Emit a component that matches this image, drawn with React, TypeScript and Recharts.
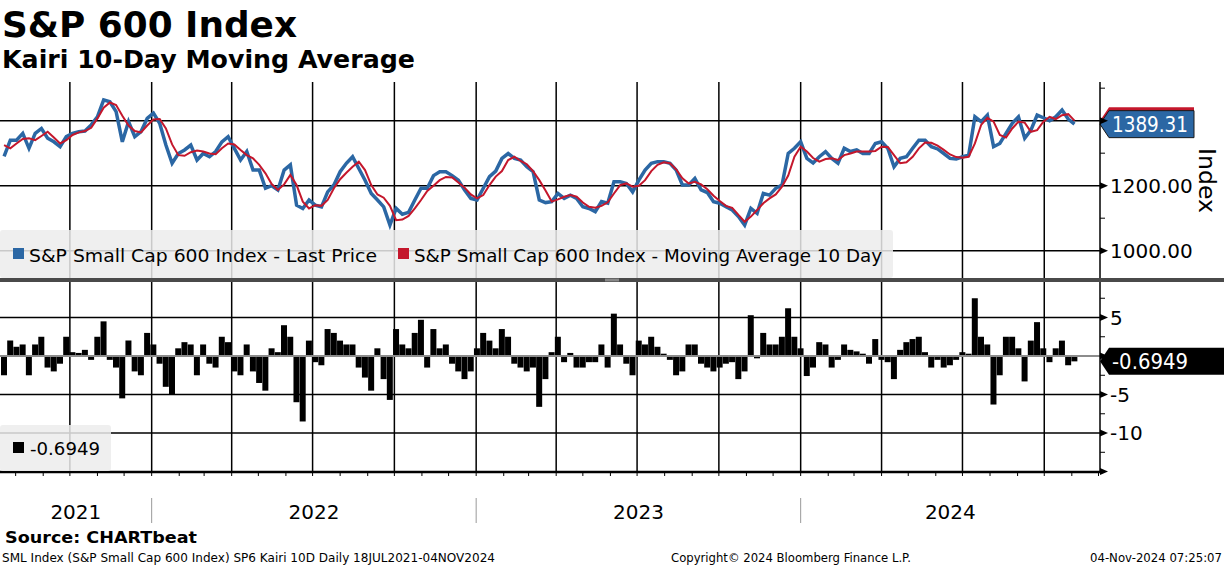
import { Bar, CartesianGrid, ComposedChart, Line, ReferenceLine, XAxis, YAxis } from "recharts"

// weekly closes, S&P 600 (SML Index), Mon 19 Jul 2021 .. Mon 4 Nov 2024
const price = [
  1290, 1340, 1340, 1361, 1315, 1361, 1376, 1346, 1335, 1320,
  1351, 1361, 1366, 1368, 1387, 1412, 1464, 1458, 1428, 1335,
  1397, 1351, 1366, 1407, 1423, 1392, 1325, 1269, 1299, 1310,
  1325, 1279, 1299, 1289, 1305, 1335, 1351, 1315, 1279, 1305,
  1248, 1248, 1192, 1200, 1187, 1248, 1264, 1140, 1130, 1156,
  1140, 1135, 1181, 1202, 1243, 1269, 1289, 1253, 1217, 1176,
  1156, 1135, 1079, 1130, 1112, 1118, 1156, 1192, 1192, 1231,
  1243, 1243, 1231, 1217, 1187, 1161, 1156, 1192, 1228, 1245,
  1284, 1299, 1284, 1279, 1258, 1243, 1156, 1148, 1151, 1176,
  1161, 1171, 1161, 1135, 1130, 1120, 1151, 1146, 1212, 1212,
  1207, 1181, 1217, 1248, 1269, 1274, 1274, 1269, 1248, 1202,
  1202, 1222, 1187, 1179, 1151, 1146, 1135, 1125, 1105, 1079,
  1130, 1115, 1176, 1171, 1192, 1202, 1299, 1315, 1335, 1284,
  1270, 1289, 1305, 1284, 1269, 1315, 1305, 1310, 1299, 1299,
  1330, 1335, 1315, 1258, 1284, 1289, 1315, 1340, 1340, 1320,
  1313, 1299, 1284, 1282, 1289, 1294, 1412, 1397, 1417, 1320,
  1330, 1361, 1392, 1412, 1346, 1371, 1417, 1409, 1400, 1412,
  1433, 1405, 1389.31,
]

const ma10 = [
  1325, 1315, 1330, 1344, 1346, 1340, 1353, 1366, 1348, 1330,
  1340, 1356, 1364, 1368, 1378, 1407, 1440, 1456, 1448, 1415,
  1385, 1368, 1364, 1385, 1404, 1405, 1376, 1327, 1294, 1292,
  1303, 1308, 1305, 1299, 1297, 1315, 1330, 1327, 1310, 1294,
  1284, 1264, 1238, 1205, 1187, 1204, 1233, 1202, 1151, 1130,
  1140, 1138, 1156, 1192, 1220, 1240, 1258, 1274, 1248, 1202,
  1173, 1163, 1138, 1094, 1096, 1107, 1130, 1156, 1184, 1200,
  1217, 1227, 1225, 1210, 1194, 1173, 1161, 1171, 1202, 1228,
  1245, 1279, 1289, 1276, 1266, 1245, 1217, 1185, 1151, 1158,
  1166, 1171, 1166, 1148, 1135, 1132, 1138, 1149, 1176, 1202,
  1207, 1197, 1200, 1217, 1245, 1264, 1272, 1269, 1250, 1223,
  1207, 1212, 1204, 1189, 1169, 1153, 1138, 1132, 1110, 1089,
  1105, 1125, 1146, 1161, 1173, 1197, 1231, 1289, 1320, 1305,
  1285, 1274, 1282, 1284, 1279, 1294, 1299, 1305, 1305, 1305,
  1307, 1320, 1319, 1294, 1269, 1272, 1289, 1315, 1333, 1332,
  1323, 1310, 1296, 1288, 1286, 1289, 1330, 1387, 1409, 1397,
  1356, 1348, 1376, 1397, 1394, 1366, 1371, 1397, 1412, 1405,
  1417, 1420, 1400,
]

const kairi = [
  -2.5, 2.0, 1.2, 1.5, -2.5, 1.5, 2.5, -1.5, -2.0, -1.0,
  2.5, 0.5, 0.4, 0.8, -0.5, 2.5, 4.5, -0.5, -1.5, -5.5,
  2.0, -2.0, -2.5, 3.0, 1.5, -1.0, -4.0, -5.0, 1.0, 1.8,
  1.5, -2.5, 1.5, -1.0, -1.5, 2.5, 1.8, -2.0, -2.5, 1.5,
  -2.0, -3.5, -4.5, 1.0, 0.5, 4.0, 2.5, -6.0, -8.5, 2.0,
  -0.8, -1.2, 3.5, 3.0, 2.0, 1.5, 1.5, -1.5, -2.8, -4.5,
  1.0, -3.0, -5.7, 3.5, 1.5, 1.0, 3.0, 4.7, -1.5, 3.5,
  1.0, 1.5, -1.0, -2.0, -3.0, -2.0, 1.0, 3.0, 2.0, 1.0,
  3.5, 2.5, -1.0, -1.5, -2.0, -1.5, -6.6, -3.0, 0.5, 2.5,
  -0.8, 0.4, -1.5, -1.5, -0.8, -0.8, 1.5, -1.5, 5.5, 1.5,
  -1.0, -2.5, 2.0, 1.5, 2.5, 1.2, 0.3, -0.5, -2.5, -2.0,
  1.5, 1.5, -1.0, -1.5, -2.0, -1.5, -1.0, -0.8, -3.0, -2.0,
  5.3, -0.3, 3.0, 1.5, 1.5, 2.5, 6.2, 2.5, 1.0, -2.6,
  -1.5, 1.8, 1.5, -1.5, -0.5, 1.5, 0.8, 0.6, 0.3, -1.0,
  2.2, -0.5, -0.8, -3.0, 0.8, 1.8, 2.2, 2.5, 0.5, -1.5,
  -0.5, -1.5, -1.2, -0.5, 0.5, 0.3, 7.5, 2.5, 1.5, -6.3,
  -2.5, 2.5, 2.5, 1.0, -3.3, 2.0, 4.4, 1.0, -0.8, 1.0,
  2.0, -1.2, -0.6949,
]

const quarterDates = [
  "2021-10-01", "2022-01-01", "2022-04-01", "2022-07-01", "2022-10-01",
  "2023-01-01", "2023-04-01", "2023-07-01", "2023-10-01",
  "2024-01-01", "2024-04-01", "2024-07-01", "2024-10-01",
]
const yearStartDates = ["2022-01-01", "2023-01-01", "2024-01-01"]
const years = ["2021", "2022", "2023", "2024"]

const priceTicks = [1000, 1100, 1200, 1300, 1400, 1500]
const priceMajors = [1000, 1200, 1400]
const kairiTicks = [-15, -12.5, -10, -7.5, -5, -2.5, 0, 2.5, 5, 7.5]
const kairiMajors = [-15, -10, -5, 0, 5]

const FONT = "'DejaVu Sans', Verdana, sans-serif"
const BLUE = "#2b67a4"
const RED = "#c4172c"

const START = Date.UTC(2021, 6, 19)
const dayOf = (s: string) => Math.round((Date.parse(s) - START) / 86400000)

const X_MIN = -4.6
const X_MAX = 1232.7

const rows = price.map((p, i) => ({ d: i * 7, price: p, ma: ma10[i], kairi: kairi[i] }))
const lastPrice = price[price.length - 1]
const lastMa = ma10[ma10.length - 1]
const lastKairi = kairi[kairi.length - 1]

const quarterDays = quarterDates.map(dayOf)
const yearStartDays = yearStartDates.map(dayOf)
const yearBounds = [X_MIN, ...yearStartDays, X_MAX]
const yearMids = years.map((y, i) => ({ label: y, d: (yearBounds[i] + yearBounds[i + 1]) / 2 }))

const monthDays: number[] = []
for (let y = 2021; y <= 2024; y++) {
  for (let m = 0; m < 12; m++) {
    const d = Math.round((Date.UTC(y, m, 1) - START) / 86400000)
    if (d > X_MIN && d < X_MAX) monthDays.push(d)
  }
}

function AxisTick(props: any) {
  const { x, y, payload, majors, digits, skip } = props
  const v = payload.value
  if (!majors.includes(v)) {
    return <line x1={x} x2={x + 5} y1={y} y2={y} stroke="#000" strokeWidth={1} />
  }
  // labels under the value tags (and the bottom edge) are left out, as on the terminal
  const hidden = skip.includes(v)
  return (
    <g>
      <path d={`M${x},${y - 3.5} L${x + 8},${y} L${x},${y + 3.5} Z`} fill="#000" />
      {!hidden && (
        <text x={x + 10} y={y} dy="0.36em" fontSize={20} fontFamily={FONT} fill="#000">
          {digits ? v.toFixed(digits) : String(v)}
        </text>
      )}
    </g>
  )
}

function DateTick(props: any) {
  const { x, y, payload } = props
  const v = payload.value
  const mid = yearMids.find((m) => Math.abs(m.d - v) < 1e-6)
  if (mid) {
    return (
      <text x={x} y={y + 47} textAnchor="middle" fontSize={20} fontFamily={FONT} fill="#000">
        {mid.label}
      </text>
    )
  }
  return (
    <g>
      <line x1={x} x2={x} y1={y} y2={y + 4} stroke="#000" strokeWidth={1} />
      {yearStartDays.includes(v) && (
        <line x1={x} x2={x} y1={y + 26} y2={y + 51} stroke="#9a9a9a" strokeWidth={1} />
      )}
    </g>
  )
}

function ValueTag(props: any) {
  const { viewBox, fill, text, w, outline } = props
  if (!viewBox) return null
  const x = viewBox.x + viewBox.width
  const y = viewBox.y
  const h = 27
  return (
    <g>
      <path
        d={`M${x},${y} L${x + 9},${y - h / 2} L${x + w},${y - h / 2} L${x + w},${y + h / 2} L${x + 9},${y + h / 2} Z`}
        fill={fill}
        stroke={outline || "none"}
        strokeWidth={1}
      />
      {text && (
        <text x={x + 12} y={y} dy="0.36em" fontSize={21} fontFamily={FONT} fill="#fff"
          textLength={76} lengthAdjust="spacingAndGlyphs">
          {text}
        </text>
      )}
    </g>
  )
}

export default function App() {
  return (
    <div style={{ position: "absolute", left: 0, top: 0, width: 1224, height: 566, background: "#fff", fontFamily: FONT }}>
      <div style={{ position: "absolute", left: 0, top: 80 }}>
        <ComposedChart width={1224} height={200} data={rows} margin={{ top: 2, right: 0, bottom: 2, left: 0 }}>
          <CartesianGrid stroke="#000" strokeWidth={1.5} verticalValues={quarterDays} horizontalValues={priceMajors} />
          <XAxis type="number" dataKey="d" domain={[X_MIN, X_MAX]} allowDataOverflow hide />
          <YAxis
            orientation="right"
            width={124}
            domain={[916, 1519]}
            allowDataOverflow
            ticks={priceTicks}
            interval={0}
            tickLine={false}
            tickSize={0}
            tickMargin={0}
            axisLine={{ stroke: "#000", strokeWidth: 1.5 }}
            tick={<AxisTick majors={priceMajors} digits={2} skip={[1400]} />}
          />
          <Line type="linear" dataKey="price" stroke={BLUE} strokeWidth={3.5} dot={false} isAnimationActive={false} />
          <Line type="linear" dataKey="ma" stroke={RED} strokeWidth={2} dot={false} isAnimationActive={false} />
          <ReferenceLine y={lastMa} stroke="none" label={<ValueTag fill={RED} text="" w={94} />} />
          <ReferenceLine y={lastPrice} stroke="none"
            label={<ValueTag fill={BLUE} text={lastPrice.toFixed(2)} w={94} outline="#1a1a1a" />} />
        </ComposedChart>
      </div>

      <div style={{ position: "absolute", left: 0, top: 280 }}>
        <ComposedChart width={1224} height={252} data={rows} margin={{ top: 2, right: 0, bottom: 0, left: 0 }}>
          <CartesianGrid stroke="#000" strokeWidth={1.5} verticalValues={quarterDays} horizontalValues={[5, -5, -10]} />
          <XAxis
            type="number"
            dataKey="d"
            domain={[X_MIN, X_MAX]}
            allowDataOverflow
            ticks={[...monthDays, ...yearMids.map((m) => m.d)]}
            interval={0}
            height={60}
            tickLine={false}
            tickSize={0}
            tickMargin={0}
            axisLine={{ stroke: "#000", strokeWidth: 2.5 }}
            tick={<DateTick />}
          />
          <YAxis
            orientation="right"
            width={124}
            domain={[-15.06, 9.61]}
            allowDataOverflow
            ticks={kairiTicks}
            interval={0}
            tickLine={false}
            tickSize={0}
            tickMargin={0}
            axisLine={{ stroke: "#000", strokeWidth: 1.5 }}
            tick={<AxisTick majors={kairiMajors} skip={[-15, 0]} />}
          />
          <Bar dataKey="kairi" fill="#000" barSize={6} isAnimationActive={false} />
          <ReferenceLine y={0} stroke="#8c8c8c" strokeWidth={2} />
          <ReferenceLine y={lastKairi} stroke="none"
            label={<ValueTag fill="#000" text={lastKairi.toFixed(4)} w={124} />} />
        </ComposedChart>
      </div>

      <svg width={1224} height={566} style={{ position: "absolute", left: 0, top: 0, pointerEvents: "none" }}>
        <text x={2} y={36.5} fontSize={35} fontWeight="bold" fontFamily={FONT} textLength={295} lengthAdjust="spacingAndGlyphs">
          S&amp;P 600 Index
        </text>
        <text x={2} y={68} fontSize={25} fontWeight="bold" fontFamily={FONT} textLength={413} lengthAdjust="spacingAndGlyphs">
          Kairi 10-Day Moving Average
        </text>

        <rect x={0} y={230} width={893} height={48} rx={3} fill="#ececec" fillOpacity={0.85} />
        <rect x={13} y={248} width={11} height={11} fill={BLUE} />
        <text x={29} y={261.5} fontSize={18.5} fontFamily={FONT} textLength={348} lengthAdjust="spacingAndGlyphs">
          S&amp;P Small Cap 600 Index - Last Price
        </text>
        <rect x={398} y={248} width={11} height={11} fill={RED} />
        <text x={414} y={261.5} fontSize={18.5} fontFamily={FONT} textLength={468} lengthAdjust="spacingAndGlyphs">
          S&amp;P Small Cap 600 Index - Moving Average 10 Day
        </text>

        <text transform="translate(1199,148) rotate(90)" fontSize={23} fontFamily={FONT} textLength={65} lengthAdjust="spacingAndGlyphs">
          Index
        </text>

        <rect x={0} y={278} width={1224} height={4} fill="#4a4a4a" />
        <line x1={605} x2={619} y1={279.2} y2={279.2} stroke="#bbb" strokeWidth={0.8} />
        <line x1={605} x2={619} y1={280.8} y2={280.8} stroke="#bbb" strokeWidth={0.8} />

        <rect x={0} y={425} width={111} height={46} rx={3} fill="#ececec" fillOpacity={0.85} />
        <rect x={13} y={442} width={11} height={11} fill="#000" />
        <text x={30} y={455} fontSize={18.5} fontFamily={FONT} textLength={70} lengthAdjust="spacingAndGlyphs">
          {lastKairi.toFixed(4)}
        </text>

        <text x={5} y={543} fontSize={16.5} fontWeight="bold" fontFamily={FONT} textLength={192} lengthAdjust="spacingAndGlyphs">
          Source: CHARTbeat
        </text>
        <text x={2} y={561.5} fontSize={11.5} fontFamily={FONT} textLength={493} lengthAdjust="spacingAndGlyphs">
          SML Index (S&amp;P Small Cap 600 Index) SP6 Kairi 10D  Daily 18JUL2021-04NOV2024
        </text>
        <text x={671} y={561.5} fontSize={11.5} fontFamily={FONT} textLength={240} lengthAdjust="spacingAndGlyphs">
          Copyright© 2024 Bloomberg Finance L.P.
        </text>
        <text x={1090} y={561.5} fontSize={11.5} fontFamily={FONT} textLength={132} lengthAdjust="spacingAndGlyphs">
          04-Nov-2024 07:25:07
        </text>
      </svg>
    </div>
  )
}
